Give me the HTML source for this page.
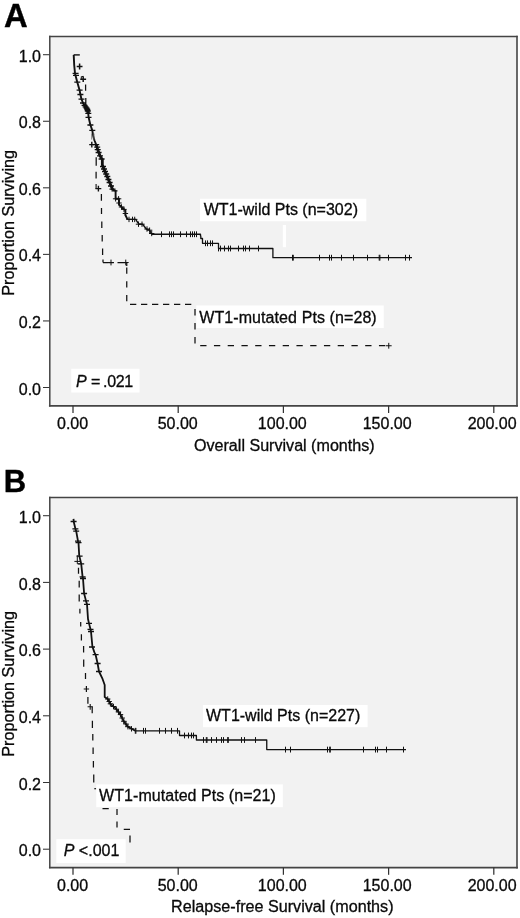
<!DOCTYPE html>
<html><head><meta charset="utf-8"><title>Kaplan-Meier survival curves</title>
<style>
html,body{margin:0;padding:0;background:#fff;}
body{width:520px;height:918px;overflow:hidden;}
svg{display:block;}
text{font-family:"Liberation Sans",Arial,sans-serif;font-size:16px;fill:#0a0a0a;stroke:#0a0a0a;stroke-width:0.3px;}
.big{font-size:32.8px;font-weight:bold;fill:#000;stroke:#000;stroke-width:0.4px;}
.i{font-style:italic;}
</style></head><body>
<svg width="520" height="918" viewBox="0 0 520 918">
<rect width="520" height="918" fill="#fff"/>

<text class="big" x="4.1" y="27.3">A</text>
<rect x="49.8" y="36.5" width="467.2" height="369.3" fill="#f2f2f2"/>
<g stroke="#444" stroke-linecap="square" fill="none"><path d="M49.80 36.50H517.00" stroke-width="1.3"/><path d="M517.00 36.50V405.80" stroke-width="1.6"/><path d="M49.80 405.80H517.00" stroke-width="1.7"/><path d="M49.80 36.50V405.80" stroke-width="1.5"/></g>
<path d="M43 387.50H49.5" stroke="#333" stroke-width="1.05"/>
<text x="41" y="394.60" text-anchor="end">0.0</text>
<path d="M43 320.94H49.5" stroke="#333" stroke-width="1.05"/>
<text x="41" y="328.04" text-anchor="end">0.2</text>
<path d="M43 254.38H49.5" stroke="#333" stroke-width="1.05"/>
<text x="41" y="261.48" text-anchor="end">0.4</text>
<path d="M43 187.82H49.5" stroke="#333" stroke-width="1.05"/>
<text x="41" y="194.92" text-anchor="end">0.6</text>
<path d="M43 121.26H49.5" stroke="#333" stroke-width="1.05"/>
<text x="41" y="128.36" text-anchor="end">0.8</text>
<path d="M43 54.70H49.5" stroke="#333" stroke-width="1.05"/>
<text x="41" y="61.80" text-anchor="end">1.0</text>
<path d="M73.00 405.80V413.00" stroke="#333" stroke-width="1.25"/>
<text x="72.60" y="429.30" text-anchor="middle">0.00</text>
<path d="M178.20 405.80V413.00" stroke="#333" stroke-width="1.25"/>
<text x="177.70" y="429.30" text-anchor="middle">50.00</text>
<path d="M283.40 405.80V413.00" stroke="#333" stroke-width="1.25"/>
<text x="282.30" y="429.30" text-anchor="middle">100.00</text>
<path d="M388.60 405.80V413.00" stroke="#333" stroke-width="1.25"/>
<text x="387.20" y="429.30" text-anchor="middle">150.00</text>
<path d="M493.80 405.80V413.00" stroke="#333" stroke-width="1.25"/>
<text x="492.10" y="429.30" text-anchor="middle">200.00</text>
<text x="284.30" y="450.70" text-anchor="middle" textLength="180.6" lengthAdjust="spacingAndGlyphs">Overall Survival (months)</text>
<text transform="translate(13.8 222.90) rotate(-90)" text-anchor="middle" textLength="145.8" lengthAdjust="spacingAndGlyphs">Proportion Surviving</text>
<g fill="none" stroke="#111" stroke-linejoin="round">
<path d="M73.70 54.90 L74.20 65.00 L75.00 73.40 L77.30 82.20 L79.60 90.20 L80.40 94.50 L81.50 99.20 L83.00 103.00 L85.20 106.50 L87.30 109.50 L88.20 113.00 L88.60 117.30 L90.40 125.00 L92.30 130.40 L93.20 136.00 L94.50 140.50 L96.20 144.60 L97.70 149.60 L100.00 155.80 L102.30 159.60 L102.30 164.80 L105.00 171.50 L108.00 178.50 L110.50 184.50 L112.70 189.60 L115.60 190.80 L115.60 198.80 L119.00 198.80 L119.00 204.60 L122.00 207.50 L125.40 210.40 L125.40 215.00 L127.50 219.40" stroke-width="1.9"/>
<path d="M127.50 219.40 L135.80 219.40 L137.00 221.50 L139.00 224.20 L142.60 224.20 L144.00 226.00 L146.50 229.20 L149.60 230.20 L151.70 234.25" stroke-width="1.4"/>
<path d="M151.70 234.25 H200.50 V236.00 H200.80 V238.50 H202.50 V241.00 V243.30 H203.70 H218.50 V248.50 H272.90 V257.70 H412.00" stroke-width="1.3"/>
<path d="M72.60 73.40H78.60M73.00 75.30H79.00M74.30 82.20H80.30M76.60 90.20H82.60M77.40 94.50H83.40M78.50 99.20H84.50M80.00 103.00H86.00M81.60 105.40H87.60M82.60 106.80H88.60M83.60 108.20H89.60M84.30 109.50H90.30M84.80 111.00H90.80M85.30 113.30H91.30M85.50 117.30H91.50M87.40 125.00H93.40M89.30 130.40H95.30M93.20 144.60H99.20M94.20 147.20H100.20M94.70 149.60H100.70M95.60 152.50H101.60M97.00 155.80H103.00M98.60 159.00H104.60M100.00 166.50H106.00M101.00 169.00H107.00M102.00 171.50H108.00M103.20 174.00H109.20M104.30 176.50H110.30M105.40 179.50H111.40M106.60 182.50H112.60M108.00 186.00H114.00M109.50 189.20H115.50M111.50 190.80H117.50" stroke-width="1.30"/>
<path d="M84.2 104.2L86.2 107.3L87.6 109.8L88.3 113.5" stroke-width="3.4"/>
<path d="M96.2 144.6L97.7 149.6L100 155.8L102.3 159.6V164.8L105 171.5L108 178.5L110.5 184.5L112.7 189.6" stroke-width="2.7"/>
<path d="M91.7 133.5V139.6M94 133.5V139.6" stroke="#777" stroke-width="0.9"/>
<path d="M112.90 198.80H118.30M115.60 196.10V201.50" stroke-width="1.00"/>
<path d="M115.90 198.80H121.30M118.60 196.10V201.50" stroke-width="1.00"/>
<path d="M116.30 203.00H121.70M119.00 200.30V205.70" stroke-width="1.00"/>
<path d="M118.80 207.00H124.20M121.50 204.30V209.70" stroke-width="1.00"/>
<path d="M121.30 209.40H126.70M124.00 206.70V212.10" stroke-width="1.00"/>
<path d="M122.70 213.50H128.10M125.40 210.80V216.20" stroke-width="1.00"/>
<path d="M126.30 219.40H131.70M129.00 216.70V222.10" stroke-width="1.00"/>
<path d="M129.80 219.40H135.20M132.50 216.70V222.10" stroke-width="1.00"/>
<path d="M132.00 219.40H137.40M134.70 216.70V222.10" stroke-width="1.00"/>
<path d="M135.80 224.20H141.20M138.50 221.50V226.90" stroke-width="1.00"/>
<path d="M139.30 224.20H144.70M142.00 221.50V226.90" stroke-width="1.00"/>
<path d="M144.30 229.00H149.70M147.00 226.30V231.70" stroke-width="1.00"/>
<path d="M146.90 230.20H152.30M149.60 227.50V232.90" stroke-width="1.00"/>
<path d="M149.00 233.50H154.40M151.70 230.80V236.20" stroke-width="1.00"/>
<path d="M161.50 231.35V237.15M169.50 231.35V237.15M171.50 231.35V237.15M173.50 231.35V237.15M180.50 231.35V237.15M186.50 231.35V237.15M190.50 231.35V237.15M192.50 231.35V237.15M194.50 231.35V237.15M196.50 231.35V237.15" stroke-width="1.00"/>
<path d="M205.50 240.40V246.20M207.50 240.40V246.20M210.50 240.40V246.20M212.50 240.40V246.20" stroke-width="1.00"/>
<path d="M218.50 245.60V251.40M220.50 245.60V251.40M224.50 245.60V251.40M228.50 245.60V251.40M230.50 245.60V251.40M238.50 245.60V251.40M243.50 245.60V251.40M245.50 245.60V251.40M249.50 245.60V251.40M258.50 245.60V251.40" stroke-width="1.00"/>
<path d="M292.50 254.80V260.60M293.30 254.80V260.60M319.50 254.80V260.60M329.50 254.80V260.60M331.50 254.80V260.60M341.50 254.80V260.60M353.50 254.80V260.60M367.50 254.80V260.60M379.20 254.80V260.60M379.90 254.80V260.60M388.50 254.80V260.60M405.50 254.80V260.60M409.50 254.80V260.60" stroke-width="1.00"/>
<path d="M73.7 54.9H79.8" stroke-width="1.4"/>
<path d="M76.70 66.50H82.50M79.60 63.60V69.40" stroke-width="1.50"/>
<path d="M80.30 79.20H86.10M83.20 76.30V82.10" stroke-width="1.50"/>
<path d="M81.3 76.5V80M81.3 76.8L83.2 76.3" stroke-width="1.0"/>
<path d="M85.60 84.50V90.70M85.80 98.00V105.00" stroke-width="1.25"/>
<path d="M89.20 144.60H94.40M91.80 141.70V147.50" stroke-width="1.40"/>
<path d="M96.20 157.30V165.80M96.10 171.70V178.50" stroke-width="1.25"/>
<path d="M95.50 188.60H101.30M98.40 185.70V191.50" stroke-width="1.40"/>
<path d="M96.1 184V189" stroke-width="1.1"/>
<path d="M101.40 194.00V200.70M101.50 208.00V214.00M101.80 221.50V228.00M102.20 235.00V241.50M102.60 248.50V255.00M103.00 259.50V262.50" stroke-width="1.25"/>
<path d="M103.00 262.50H108.00M108.20 262.50H113.80M117.50 262.50H126.75" stroke-width="1.25"/>
<path d="M108.10 262.50H113.90M111.00 259.60V265.40" stroke-width="1.00"/>
<path d="M122.85 262.50H128.65M125.75 259.60V265.40" stroke-width="1.00"/>
<path d="M126.75 262.50V266.00M126.75 267.50V273.75M126.75 281.25V287.50M126.75 295.00V301.25" stroke-width="1.25"/>
<path d="M130 304.25H195" stroke-width="1.25" stroke-dasharray="6.3 4.7"/>
<path d="M195.00 309.00V315.50M195.00 323.00V329.50M195.00 337.00V343.50" stroke-width="1.25"/>
<path d="M200.2 345.5H388" stroke-width="1.25" stroke-dasharray="6.3 7.45"/>
<path d="M385.85 345.75H391.65M388.75 342.85V348.65" stroke-width="1.00"/>
</g>
<rect x="200" y="198.75" width="166.3" height="22.5" fill="#fff"/>
<text x="203.7" y="214.6">WT1-wild Pts (n=302)</text>
<rect x="282.8" y="225" width="3.2" height="22.2" fill="#fff"/>
<rect x="196.25" y="305.5" width="187.5" height="22.5" fill="#fff"/>
<text x="199.2" y="322.9" letter-spacing="0.09">WT1-mutated Pts (n=28)</text>
<rect x="71.25" y="368.75" width="68.25" height="23.75" fill="#fff"/>
<text x="76" y="387.2"><tspan class="i">P</tspan> =<tspan dx="2.6" letter-spacing="-0.35">.021</tspan></text>
<text class="big" x="3.8" y="492.2" style="font-size:31px">B</text>
<rect x="49.8" y="497.5" width="467.2" height="370.1" fill="#f2f2f2"/>
<g stroke="#444" stroke-linecap="square" fill="none"><path d="M49.80 497.50H517.00" stroke-width="1.3"/><path d="M517.00 497.50V867.60" stroke-width="1.6"/><path d="M49.80 867.60H517.00" stroke-width="1.7"/><path d="M49.80 497.50V867.60" stroke-width="1.5"/></g>
<path d="M43 849.20H49.5" stroke="#333" stroke-width="1.05"/>
<text x="41" y="856.30" text-anchor="end">0.0</text>
<path d="M43 782.50H49.5" stroke="#333" stroke-width="1.05"/>
<text x="41" y="789.60" text-anchor="end">0.2</text>
<path d="M43 715.80H49.5" stroke="#333" stroke-width="1.05"/>
<text x="41" y="722.90" text-anchor="end">0.4</text>
<path d="M43 649.10H49.5" stroke="#333" stroke-width="1.05"/>
<text x="41" y="656.20" text-anchor="end">0.6</text>
<path d="M43 582.40H49.5" stroke="#333" stroke-width="1.05"/>
<text x="41" y="589.50" text-anchor="end">0.8</text>
<path d="M43 515.70H49.5" stroke="#333" stroke-width="1.05"/>
<text x="41" y="522.80" text-anchor="end">1.0</text>
<path d="M73.00 867.60V874.80" stroke="#333" stroke-width="1.25"/>
<text x="72.60" y="890.60" text-anchor="middle">0.00</text>
<path d="M178.20 867.60V874.80" stroke="#333" stroke-width="1.25"/>
<text x="177.70" y="890.60" text-anchor="middle">50.00</text>
<path d="M283.40 867.60V874.80" stroke="#333" stroke-width="1.25"/>
<text x="282.30" y="890.60" text-anchor="middle">100.00</text>
<path d="M388.60 867.60V874.80" stroke="#333" stroke-width="1.25"/>
<text x="387.20" y="890.60" text-anchor="middle">150.00</text>
<path d="M493.80 867.60V874.80" stroke="#333" stroke-width="1.25"/>
<text x="492.10" y="890.60" text-anchor="middle">200.00</text>
<text x="282.30" y="912.40" text-anchor="middle" textLength="222.5" lengthAdjust="spacingAndGlyphs">Relapse-free Survival (months)</text>
<text transform="translate(13.8 683.80) rotate(-90)" text-anchor="middle" textLength="145.8" lengthAdjust="spacingAndGlyphs">Proportion Surviving</text>
<g fill="none" stroke="#111" stroke-linejoin="round">
<path d="M73.50 518.80 L73.80 522.00 L75.40 528.80 L76.20 531.20 L78.00 541.20 L78.50 542.70 L79.20 555.40 L81.20 563.80 L82.60 576.90 L83.00 578.50 L84.10 593.50 L86.00 600.90 L87.00 604.30 L88.00 619.00 L89.00 623.40 L90.50 629.30 L91.00 631.50 L92.40 646.50 L94.40 652.40 L95.60 654.70 L97.60 663.50 L99.00 671.50 L102.30 678.30 L104.70 685.00 L104.70 697.00 L107.70 699.00 L110.40 703.80 L116.40 709.20 L120.50 714.60 L123.80 721.30 L127.90 726.70 L135.30 730.80" stroke-width="1.8"/>
<path d="M135.30 730.80 H179.50 V735.50 H180.80 H196.40 V740.00 H197.50 H266.75 V749.60 H406.00" stroke-width="1.3"/>
<path d="M70.60 521.50H76.60M72.40 528.80H78.40M73.20 531.20H79.20M75.00 541.20H81.00M75.50 542.70H81.50M76.60 556.20H82.60M78.20 563.80H84.20M79.60 576.90H85.60M80.00 578.50H86.00M81.10 593.50H87.10M83.00 600.90H89.00M84.00 604.30H90.00M86.00 623.40H92.00M87.50 629.30H93.50M88.00 631.50H94.00M89.00 647.00H95.00M92.60 654.70H98.60M94.60 663.50H100.60M96.00 671.50H102.00" stroke-width="1.30"/>
<path d="M105.00 699.00H110.40M107.70 696.30V701.70" stroke-width="1.00"/>
<path d="M106.50 701.50H111.90M109.20 698.80V704.20" stroke-width="1.00"/>
<path d="M107.70 703.80H113.10M110.40 701.10V706.50" stroke-width="1.00"/>
<path d="M110.80 706.50H116.20M113.50 703.80V709.20" stroke-width="1.00"/>
<path d="M113.70 709.20H119.10M116.40 706.50V711.90" stroke-width="1.00"/>
<path d="M115.80 712.00H121.20M118.50 709.30V714.70" stroke-width="1.00"/>
<path d="M117.80 714.60H123.20M120.50 711.90V717.30" stroke-width="1.00"/>
<path d="M119.50 718.00H124.90M122.20 715.30V720.70" stroke-width="1.00"/>
<path d="M121.10 721.30H126.50M123.80 718.60V724.00" stroke-width="1.00"/>
<path d="M123.30 724.00H128.70M126.00 721.30V726.70" stroke-width="1.00"/>
<path d="M125.20 726.70H130.60M127.90 724.00V729.40" stroke-width="1.00"/>
<path d="M128.80 728.80H134.20M131.50 726.10V731.50" stroke-width="1.00"/>
<path d="M135.30 727.90V733.70M135.90 727.90V733.70M143.50 727.90V733.70M145.50 727.90V733.70M159.50 727.90V733.70M165.50 727.90V733.70M171.50 727.90V733.70M177.50 727.90V733.70" stroke-width="1.00"/>
<path d="M184.50 732.60V738.40M188.50 732.60V738.40M191.50 732.60V738.40M193.50 732.60V738.40" stroke-width="1.00"/>
<path d="M203.50 737.10V742.90M206.30 737.10V742.90M207.00 737.10V742.90M211.50 737.10V742.90M216.50 737.10V742.90M221.50 737.10V742.90M223.50 737.10V742.90M227.70 737.10V742.90M228.30 737.10V742.90M241.50 737.10V742.90M244.50 737.10V742.90M255.50 737.10V742.90" stroke-width="1.00"/>
<path d="M285.50 746.70V752.50M290.50 746.70V752.50M327.50 746.70V752.50M329.70 746.70V752.50M330.30 746.70V752.50M363.50 746.70V752.50M375.50 746.70V752.50M377.50 746.70V752.50M386.50 746.70V752.50M403.50 746.70V752.50" stroke-width="1.00"/>
<path d="M77.3 555.4V563.8H79.8M74.4 561.4H80.2" stroke-width="1.0"/>
<path d="M78.50 567.70V573.80M79.20 580.80V587.60M79.20 594.50V601.40M79.90 608.70V613.60M80.70 622.00V626.40M81.40 634.20V640.60M83.60 646.00V652.40M83.70 659.40V666.80M85.50 672.90V679.00" stroke-width="1.25"/>
<path d="M83.70 689.00H89.10M86.40 686.10V691.90" stroke-width="1.20"/>
<path d="M87.90 697.10V703.80" stroke-width="1.25"/>
<path d="M87.60 706.80H92.80M90.20 703.90V709.70" stroke-width="1.10"/>
<path d="M92.20 706.80V713.30M92.40 720.70V728.00M92.80 734.00V740.50M93.10 747.50V754.00M93.40 761.00V767.50M93.75 774.50V782.50" stroke-width="1.25"/>
<path d="M94.3 788.7H96.2" stroke-width="1.2"/>
<path d="M102.5 808.7H108.75M117 809V815M117 821.5V827.5M123.75 829.25H130M130 835.5V842.5" stroke-width="1.25"/>
</g>
<rect x="203" y="705" width="164.6" height="22.2" fill="#fff"/>
<text x="206" y="720.8">WT1-wild Pts (n=227)</text>
<rect x="96.25" y="784.4" width="186.6" height="22.8" fill="#fff"/>
<text x="99.1" y="800.6" letter-spacing="0.05">WT1-mutated Pts (n=21)</text>
<rect x="56.3" y="839.2" width="69.4" height="23.8" fill="#fff"/>
<text x="63.75" y="856"><tspan class="i">P</tspan> &lt;.001</text>
</svg>
</body></html>
